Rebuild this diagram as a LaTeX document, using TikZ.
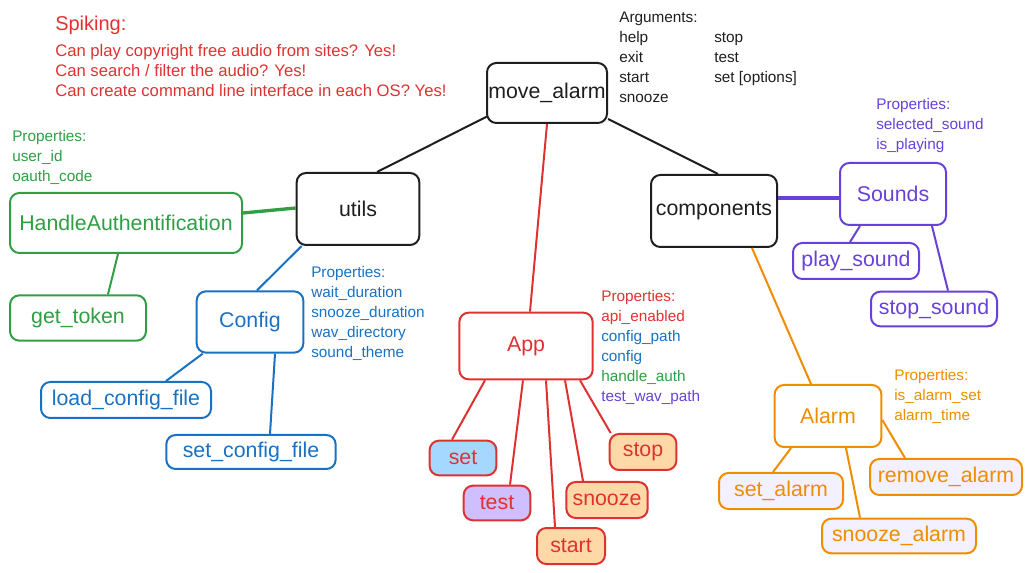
\documentclass[tikz,border=0pt]{standalone}
\usepackage{fontspec}
\setmainfont{Liberation Sans}
\usetikzlibrary{calc}
\definecolor{rojo}{HTML}{E03131}
\definecolor{verde}{HTML}{2F9E44}
\definecolor{azul}{HTML}{1971C2}
\definecolor{morado}{HTML}{6741D9}
\definecolor{naranja}{HTML}{F08C00}
\definecolor{negro}{HTML}{1E1E1E}
\definecolor{celeste}{HTML}{A5D8FF}
\definecolor{lila}{HTML}{D0BFFF}
\definecolor{durazno}{HTML}{FFD8A8}
\definecolor{lavanda}{HTML}{F3F0FF}
\tikzset{
  caja/.style={draw, rounded corners=7pt, line width=1.5pt, align=center, inner sep=0pt, font=\fontsize{16}{19}\selectfont},
  nota/.style={anchor=north west, align=left, inner sep=0pt, font=\fontsize{11.5}{15}\selectfont},
  arista/.style={line width=1.5pt},
}

\begin{document}
\begin{tikzpicture}[x=0.75pt,y=-0.75pt]
  \useasboundingbox (0,0) rectangle (1032,573);
  % Notas
  \node[nota, rojo, font=\fontsize{15}{18}\selectfont] (spk) at (55,16) {Spiking:};
  \node[nota, rojo, font=\fontsize{12.5}{15}\selectfont] (spklines) at (55,44) {Can play copyright free audio from sites? Yes!\\Can search / filter the audio? Yes!\\Can create command line interface in each OS? Yes!};
  \node[nota, negro] (args) at (619,12) {Arguments:\\help\\exit\\start\\snooze};
  \node[nota, negro] (args2) at (714,32) {stop\\test\\set [options]};
  \node[nota, verde] (propauth) at (12,130) {Properties:\\user\_id\\oauth\_code};
  \node[nota, morado] (propsnd) at (876,98) {Properties:\\selected\_sound\\is\_playing};
  \node[nota, azul] (propcfg) at (311,266) {Properties:\\wait\_duration\\snooze\_duration\\wav\_directory\\sound\_theme};
  \node[nota] (propapp) at (601,290) {\textcolor{rojo}{Properties:}\\\textcolor{rojo}{api\_enabled}\\\textcolor{azul}{config\_path}\\\textcolor{azul}{config}\\\textcolor{verde}{handle\_auth}\\\textcolor{morado}{test\_wav\_path}};
  \node[nota, naranja] (propalarm) at (894,369) {Properties:\\is\_alarm\_set\\alarm\_time};
  % Nodos
  \node[caja, negro, minimum width=90pt, minimum height=45pt] (ma) at (547,93) {move\_alarm};
  \node[caja, negro, minimum width=92pt, minimum height=54pt] (utils) at (358,209) {utils};
  \node[caja, negro, minimum width=94.5pt, minimum height=54pt] (comp) at (714,211) {components};
  \node[caja, verde, minimum width=174pt, minimum height=45pt] (auth) at (126,223) {HandleAuthentification};
  \node[caja, verde, minimum width=102pt, minimum height=34pt] (token) at (78,318) {get\_token};
  \node[caja, azul, minimum width=80pt, minimum height=46pt] (cfg) at (250,322) {Config};
  \node[caja, azul, minimum width=127.5pt, minimum height=27pt] (loadcfg) at (126,400) {load\_config\_file};
  \node[caja, azul, minimum width=127pt, minimum height=25.5pt] (setcfg) at (251,452) {set\_config\_file};
  \node[caja, rojo, minimum width=100pt, minimum height=50pt] (app) at (526,346) {App};
  \node[caja, rojo, fill=celeste, minimum width=50pt, minimum height=26pt] (set) at (463,458) {set};
  \node[caja, rojo, fill=lila, minimum width=50pt, minimum height=26pt] (test) at (497,503) {test};
  \node[caja, rojo, fill=durazno, minimum width=51pt, minimum height=27pt] (start) at (571,546) {start};
  \node[caja, rojo, fill=durazno, minimum width=61pt, minimum height=27pt] (snooze) at (607,500) {snooze};
  \node[caja, rojo, fill=durazno, minimum width=50pt, minimum height=27pt] (stop) at (643,452) {stop};
  \node[caja, morado, minimum width=79.5pt, minimum height=46.5pt] (snd) at (893,194) {Sounds};
  \node[caja, morado, minimum width=94.5pt, minimum height=27pt] (play) at (856,261) {play\_sound};
  \node[caja, morado, minimum width=94.5pt, minimum height=26pt] (stopsnd) at (934,309) {stop\_sound};
  \node[caja, naranja, minimum width=80pt, minimum height=46.5pt] (alarm) at (828,416) {Alarm};
  \node[caja, naranja, fill=lavanda, minimum width=93pt, minimum height=27pt] (setalarm) at (781,491) {set\_alarm};
  \node[caja, naranja, fill=lavanda, minimum width=114pt, minimum height=27pt] (rmalarm) at (946,477) {remove\_alarm};
  \node[caja, naranja, fill=lavanda, minimum width=115.5pt, minimum height=26pt] (snzalarm) at (899,536) {snooze\_alarm};
  % Aristas
  \draw[arista, negro] ($(ma.south west)+(2,-8)$) -- ($(utils.north)+(19,0)$);
  \draw[arista, negro] ($(ma.south east)+(0,-5)$) -- ($(comp.north)+(4,0)$);
  \draw[arista, rojo] (ma.south) -- ($(app.north)+(4,0)$);
  \draw[arista, verde, line width=2.5pt] ($(utils.west)+(0,-1)$) -- ($(auth.east)+(0,-10)$);
  \draw[arista, verde] ($(auth.south)+(-8,0)$) -- ($(token.north)+(30,0)$);
  \draw[arista, azul] ($(utils.south west)+(6,0)$) -- ($(cfg.north)+(7,0)$);
  \draw[arista, azul] ($(cfg.south west)+(7,0)$) -- ($(loadcfg.north)+(40,0)$);
  \draw[arista, azul] ($(cfg.south)+(25,0)$) -- ($(setcfg.north)+(19,0)$);
  \draw[arista, rojo] ($(app.south)+(-41,0)$) -- ($(set.north)+(-11,0)$);
  \draw[arista, rojo] ($(app.south)+(-3,0)$) -- ($(test.north)+(13,0)$);
  \draw[arista, rojo] ($(app.south)+(20,0)$) -- ($(start.north)+(-16,0)$);
  \draw[arista, rojo] ($(app.south)+(39,0)$) -- ($(snooze.north)+(-24,0)$);
  \draw[arista, rojo] ($(app.south)+(54,0)$) -- ($(stop.north west)+(2,0)$);
  \draw[arista, morado, line width=2.5pt] ($(comp.east)+(0,-13)$) -- ($(snd.west)+(0,4)$);
  \draw[arista, morado] ($(snd.south)+(-33,0)$) -- ($(play.north)+(-6,0)$);
  \draw[arista, morado] ($(snd.south)+(39,0)$) -- ($(stopsnd.north)+(14,0)$);
  \draw[arista, naranja] ($(comp.south)+(38,0)$) -- ($(alarm.north)+(-17,0)$);
  \draw[arista, naranja] ($(alarm.south)+(-37,0)$) -- ($(setalarm.north)+(-8,0)$);
  \draw[arista, naranja] ($(alarm.south)+(18,0)$) -- ($(snzalarm.north)+(-39,0)$);
  \draw[arista, naranja] ($(alarm.east)+(0,4)$) -- ($(rmalarm.north)+(-41,0)$);
\end{tikzpicture}
\end{document}
